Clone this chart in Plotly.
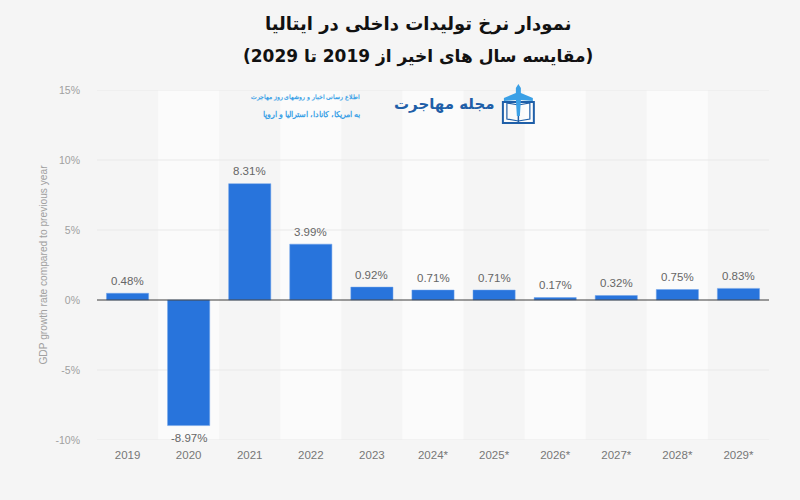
import plotly.graph_objects as go

years = ["2019", "2020", "2021", "2022", "2023", "2024*", "2025*", "2026*", "2027*", "2028*", "2029*"]
growth = [0.48, -8.97, 8.31, 3.99, 0.92, 0.71, 0.71, 0.17, 0.32, 0.75, 0.83]
labels = ["0.48%", "-8.97%", "8.31%", "3.99%", "0.92%", "0.71%", "0.71%", "0.17%", "0.32%", "0.75%", "0.83%"]
y_ticks = [-10, -5, 0, 5, 10, 15]
y_tick_labels = ["-10%", "-5%", "0%", "5%", "10%", "15%"]
title_lines = ["نمودار نرخ تولیدات داخلی در ایتالیا", "(مقایسه سال های اخیر از 2019 تا 2029)"]
banner_lines = ["اطلاع رسانی اخبار و روشهای روز مهاجرت", "به امریکا، کانادا، استرالیا و اروپا"]
brand = "مجله مهاجرت"
y_title = "GDP growth rate compared to previous year"

W, H = 800, 500
L, R, T, B = 96.5, 769.5, 90, 440
px = lambda x: (x - L) / (R - L)
py = lambda y: (B - y) / (B - T)

fig = go.Figure()
fig.add_trace(go.Bar(
    x=years, y=growth, width=0.69, marker=dict(color="#2874dc", line=dict(color="#6fa3ea", width=0.5)),
    cliponaxis=False, hoverinfo="skip",
))

shapes = []
for i in range(1, len(years), 2):
    shapes.append(dict(type="rect", layer="below", xref="x", yref="paper", x0=i - 0.5, x1=i + 0.5,
                       y0=0, y1=1, fillcolor="#fbfbfb", line_width=0))
for t in y_ticks:
    if t != 0:
        shapes.append(dict(type="line", layer="below", xref="paper", yref="y", x0=0, x1=1, y0=t, y1=t,
                           line=dict(color="#e9e9e9", width=1)))
shapes.append(dict(type="line", layer="above", xref="paper", yref="y", x0=0, x1=1, y0=0, y1=0,
                   line=dict(color="#3c3c3c", width=1)))

# logo icon (plane over open book)
blue, navy = "#3aa0e6", "#1f5fa8"
shapes += [
    dict(type="path", xref="paper", yref="paper", line=dict(color=navy, width=2), fillcolor="rgba(255,255,255,0.5)",
         path=f"M {px(503)} {py(123)} L {px(503)} {py(102)} L {px(518.5)} {py(102)} L {px(534)} {py(102)} L {px(534)} {py(123)} Z"),
    dict(type="path", xref="paper", yref="paper", line=dict(color=navy, width=1.2), fillcolor="rgba(0,0,0,0)",
         path=f"M {px(507)} {py(119)} L {px(507)} {py(103)} L {px(518.5)} {py(105)} L {px(530)} {py(103)} L {px(530)} {py(119)} L {px(518.5)} {py(121)} Z"),
    dict(type="line", xref="paper", yref="paper", x0=px(518.5), x1=px(518.5), y0=py(122), y1=py(105), line=dict(color=navy, width=1.5)),
    dict(type="path", xref="paper", yref="paper", fillcolor=blue, line_width=0,
         path=f"M {px(518.5)} {py(84)} L {px(521)} {py(88)} L {px(521)} {py(93)} L {px(533)} {py(98)} L {px(533)} {py(101)} "
              f"L {px(521)} {py(100)} L {px(520)} {py(116)} L {px(517)} {py(116)} L {px(516)} {py(100)} L {px(504)} {py(101)} "
              f"L {px(504)} {py(98)} L {px(516)} {py(93)} L {px(516)} {py(88)} Z"),
]

ann = []
for line, yy, size in zip(title_lines, [24, 57], [18, 17]):
    ann.append(dict(text=f"<b>{line}</b>", xref="paper", yref="paper", x=px(418), y=py(yy), showarrow=False,
                    xanchor="center", yanchor="middle", font=dict(family="DejaVu Sans", size=size, color="#111111")))
for line, yy, size in zip(banner_lines, [96, 114], [6.4, 7.5]):
    ann.append(dict(text=f"<b>{line}</b>", xref="paper", yref="paper", x=px(362), y=py(yy), showarrow=False,
                    xanchor="right", yanchor="middle", font=dict(family="Noto Sans", size=size, color="#3aa0e6")))
ann.append(dict(text=f"<b>{brand}</b>", xref="paper", yref="paper", x=px(497), y=py(104), showarrow=False,
                xanchor="right", yanchor="middle", font=dict(family="DejaVu Sans", size=15, color=navy)))
for i, (val, lab) in enumerate(zip(growth, labels)):
    ann.append(dict(text=lab, xref="x", yref="y", x=i, y=val, showarrow=False, xanchor="center", yanchor="middle",
                    yshift=12.5 if val >= 0 else -12.5,
                    font=dict(family="Liberation Sans", size=11.5, color="#666666")))

fig.update_layout(
    width=W, height=H, autosize=False, paper_bgcolor="#f5f5f5", plot_bgcolor="rgba(0,0,0,0)", showlegend=False,
    margin=dict(l=L, r=W - R, t=T, b=H - B), bargap=0.31, shapes=shapes, annotations=ann,
    font=dict(family="Liberation Sans", color="#8c8c8c"),
    xaxis=dict(type="category", categoryorder="array", categoryarray=years, range=[-0.5, 10.5], showgrid=False,
               showline=False, ticks="", tickfont=dict(size=11.5, color="#777777"), ticklabelstandoff=6, zeroline=False),
    yaxis=dict(range=[-10, 15], tickvals=y_ticks, ticktext=y_tick_labels, showgrid=False, zeroline=False, showline=False,
               ticks="", tickfont=dict(size=10.5, color="#a0a0a0"), ticklabelstandoff=16,
               title=dict(text=y_title, font=dict(size=10.2, color="#a0a0a0"), standoff=5)),
)
fig.write_html("out.html", config={"displayModeBar": False},
               post_script="document.body.style.margin='0';document.body.style.background='#f5f5f5';")
